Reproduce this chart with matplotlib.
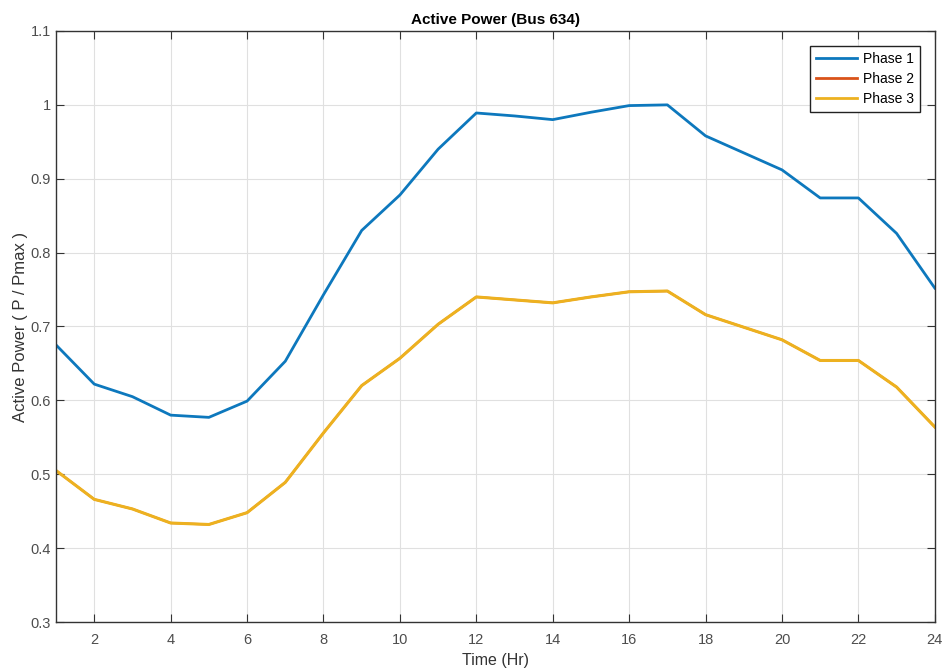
import numpy as np
import matplotlib
matplotlib.use('Agg')
import matplotlib.pyplot as plt

plt.rcParams['font.family'] = ['Liberation Sans', 'DejaVu Sans']

# hourly values
hours = list(range(1, 25))
phase1 = [0.675, 0.622, 0.605, 0.580, 0.577, 0.599, 0.653, 0.743, 0.830, 0.878, 0.940, 0.989,
          0.985, 0.980, 0.990, 0.999, 1.000, 0.958, 0.935, 0.912, 0.874, 0.874, 0.826, 0.752]
phase3 = [0.505, 0.466, 0.453, 0.434, 0.432, 0.448, 0.489, 0.556, 0.620, 0.657, 0.703, 0.740,
          0.736, 0.732, 0.740, 0.747, 0.748, 0.716, 0.699, 0.682, 0.654, 0.654, 0.618, 0.564]
# phase 2 sits exactly under phase 3
phase2 = list(phase3)

xticks = [2, 4, 6, 8, 10, 12, 14, 16, 18, 20, 22, 24]
yticks = [0.3, 0.4, 0.5, 0.6, 0.7, 0.8, 0.9, 1.0, 1.1]
ytick_labels = ['0.3', '0.4', '0.5', '0.6', '0.7', '0.8', '0.9', '1', '1.1']

fig = plt.figure(figsize=(9.5, 6.72), dpi=100)
ax = fig.add_axes([0.059, 0.0744, 0.925, 0.8795])

ax.plot(hours, phase1, color=(0.05, 0.47, 0.74), lw=2, label='Phase 1')
ax.plot(hours, phase2, color=(0.85, 0.325, 0.098), lw=1.6, label='Phase 2')
ax.plot(hours, phase3, color=(0.929, 0.694, 0.125), lw=2.2, label='Phase 3')

ax.set_xlim(1, 24)
ax.set_ylim(0.3, 1.1)
ax.set_xticks(xticks)
ax.set_yticks(yticks)
ax.set_yticklabels(ytick_labels)
ax.grid(True, color='#e0e0e0', lw=0.8)
ax.set_axisbelow(True)
ax.tick_params(direction='in', top=True, right=True, length=6, colors='#333333',
               labelcolor='#4d4d4d', labelsize=10.5)
ax.tick_params(axis='x', pad=8)
for s in ax.spines.values():
    s.set_color('#333333')
    s.set_linewidth(1.0)

ax.set_title('Active Power (Bus 634)', fontsize=11, fontweight='bold', pad=5)
ax.set_xlabel('Time (Hr)', fontsize=11.5, color='#333333', labelpad=4)
ax.set_ylabel('Active Power ( P / Pmax )', fontsize=12, color='#333333')
ax.yaxis.set_label_coords(-0.032, 0.5)

leg = ax.legend(loc='upper right', fontsize=10, fancybox=False, framealpha=1,
                edgecolor='#222222', borderaxespad=1.1, handlelength=3.0,
                handletextpad=0.4, labelspacing=0.45)
leg.get_frame().set_linewidth(1.0)
for h in leg.get_lines():
    h.set_linewidth(2)

fig.savefig('out.png', dpi=100)
